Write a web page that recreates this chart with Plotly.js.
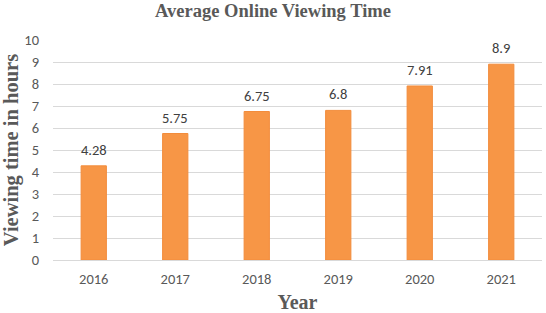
<!DOCTYPE html>
<html><head><meta charset="utf-8">
<script src="https://cdn.plot.ly/plotly-3.0.1.min.js"></script>
<style>html,body{margin:0;padding:0;background:#fff}</style>
</head><body><div id="chart" style="width:546px;height:313px"></div>
<script>
var years = ["2016","2017","2018","2019","2020","2021"];
var hours = [4.28, 5.75, 6.75, 6.8, 7.91, 8.9];
var labels = ["4.28","5.75","6.75","6.8","7.91","8.9"];

var sans = "Carlito, 'Liberation Sans', Arial, sans-serif";
var serif = "'Liberation Serif', 'Times New Roman', serif";

var trace = {
  type: "bar", x: years, y: hours,
  marker: {color: "#F79646", line: {color: "#F28C3C", width: 1}},
  width: 0.31, hoverinfo: "none"
};
var annotations = years.map(function (yr, i) {
  return {x: i, y: hours[i], text: labels[i], showarrow: false, xanchor: "center", yanchor: "middle",
    yshift: 16, font: {family: sans, size: 14.5, color: "#404040"}};
});
var layout = {
  width: 546, height: 313,
  margin: {l: 53, r: 4, t: 40, b: 53},
  paper_bgcolor: "#fff", plot_bgcolor: "#fff",
  showlegend: false,
  annotations: annotations,
  title: {text: "<b>Average Online Viewing Time</b>", x: 0.5, xanchor: "center", y: 0.965, yanchor: "middle",
    font: {family: serif, size: 18.5, color: "#595959"}},
  xaxis: {type: "category", range: [-0.5, 5.5], showgrid: false, showline: true, linecolor: "#D9D9D9", linewidth: 1,
    ticks: "", ticklabelstandoff: 6, tickfont: {family: sans, size: 14.5, color: "#595959"},
    title: {text: "<b>Year</b>", standoff: 14, font: {family: serif, size: 20, color: "#595959"}}},
  yaxis: {range: [0, 10], dtick: 1, showgrid: true, gridcolor: "#D9D9D9", zeroline: false, ticks: "",
    ticklabelstandoff: 13,
    tickfont: {family: sans, size: 14.5, color: "#595959"},
    title: {text: "<b>Viewing time in hours</b>", standoff: 4, font: {family: serif, size: 20.5, color: "#595959"}}}
};
Plotly.newPlot("chart", [trace], layout, {displayModeBar: false, staticPlot: true});
</script></body></html>
